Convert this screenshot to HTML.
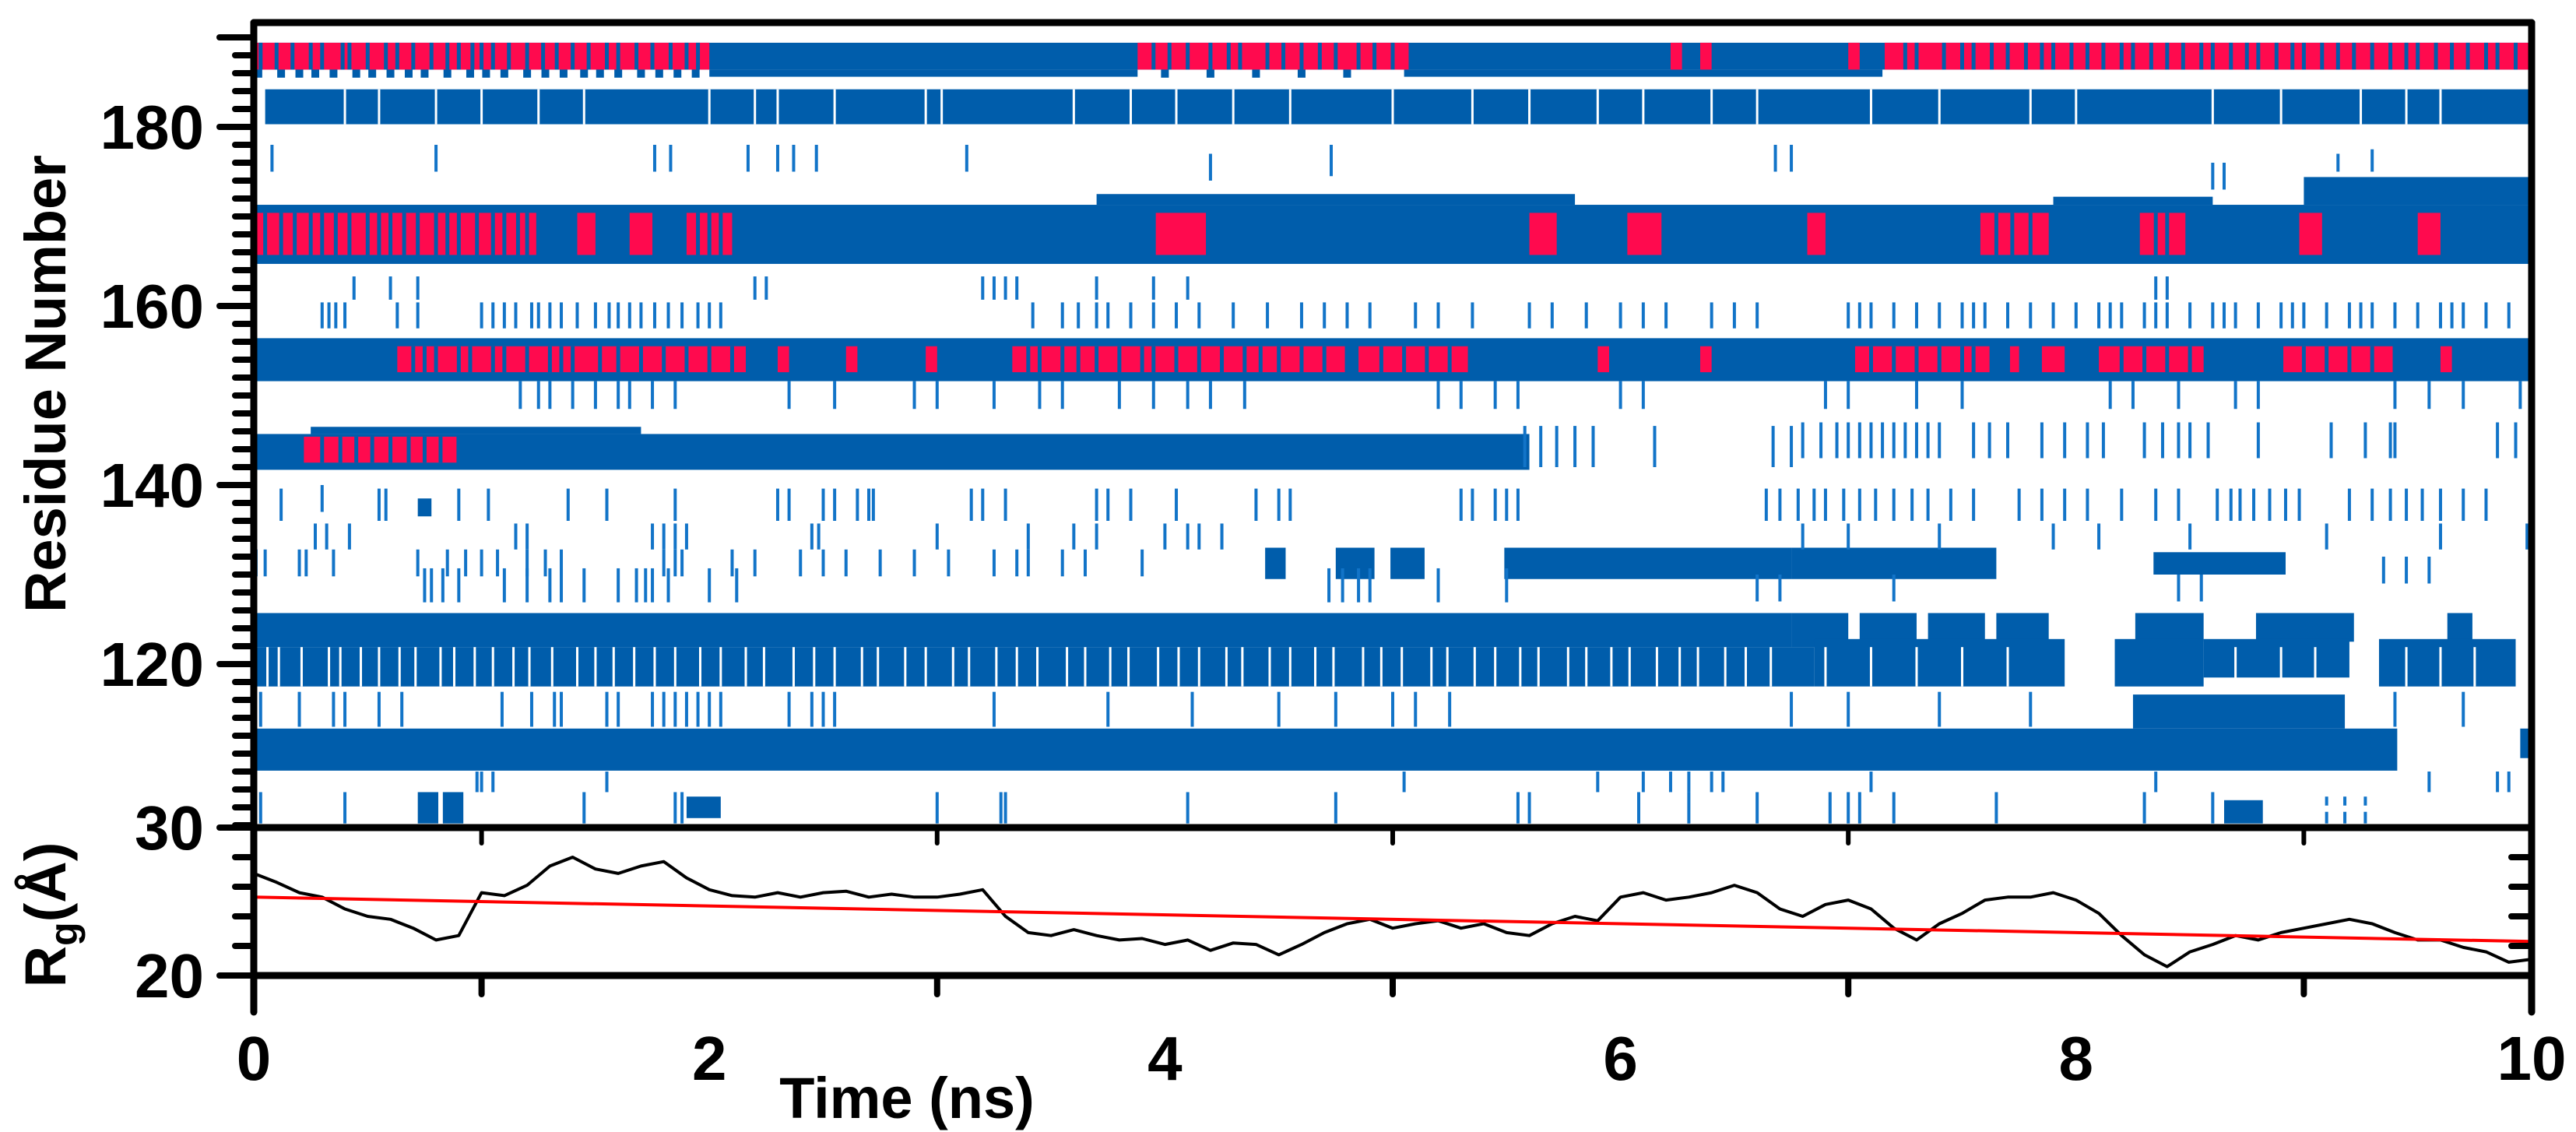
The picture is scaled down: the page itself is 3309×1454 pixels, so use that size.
<!DOCTYPE html>
<html><head><meta charset="utf-8"><title>Residue contacts and radius of gyration vs time</title>
<style>
html,body{margin:0;padding:0;background:#fff;}
svg{display:block;}
text{font-family:"Liberation Sans",Arial,sans-serif;font-weight:bold;fill:#000;}
</style></head>
<body>
<svg id="fig" xmlns="http://www.w3.org/2000/svg" width="3309" height="1454" viewBox="0 0 3309 1454">
<rect x="0" y="0" width="3309" height="1454" fill="#fff"/>
<g id="heat"></g>
<g id="rg"></g>
<g id="axes"></g>
<text x="0" y="0" font-size="74" text-anchor="middle" transform="translate(84,493) rotate(-90)">Residue Number</text>
<text x="0" y="0" font-size="74" text-anchor="middle" transform="translate(84,1175) rotate(-90)">R<tspan font-size="50" dy="15">g</tspan><tspan dy="-15">(Å)</tspan></text>
<text x="1165" y="1436" font-size="74" text-anchor="middle">Time (ns)</text>
</svg>
<script>
// ---------- data ----------
const xTicks = [0,2,4,6,8,10];
const xTickLabels = ["0","2","4","6","8","10"];
const resTicks = [180,160,140,120];
const resTickLabels = ["180","160","140","120"];
const rgTicks = [20,30];
const rgTickLabels = ["20","30"];
// blue occupancy blocks: [t0, t1, residueTop, residueBottom]
const blueBlocks = [
 [0,10,189.4,186.4],[2.0,3.88,186.4,185.6],[5.05,7.15,186.4,185.6],
 [0.05,10,184.2,180.3],
 [0,10,171.3,164.7],[3.7,5.8,172.5,171.3],[9.0,10,174.4,171.3],[7.9,8.6,172.2,171.3],
 [0,10,156.4,151.6],
 [0,5.6,145.7,141.7],[0.25,1.7,146.5,145.7],[0.72,0.78,138.5,136.5],
 [4.44,4.53,133,129.5],[4.75,4.92,133,129.5],[4.99,5.14,133,129.5],[5.49,6.75,133,129.5],[6.75,7.65,133,129.5],[8.34,8.92,132.5,130],
 [0,6.75,125.7,121.9],[6.75,7.0,125.7,121.9],[7.05,7.3,125.7,121.9],[7.35,7.6,125.7,121.9],[7.65,7.88,125.7,121.9],[8.26,8.56,125.7,122.5],[8.79,9.22,125.7,122.5],[9.63,9.74,125.7,122.5],
 [0,6.85,121.9,117.5],[6.85,7.95,122.8,117.5],[8.17,8.56,122.8,117.5],[8.56,9.2,122.8,118.5],[9.33,9.93,122.8,117.5],
 [0,9.41,112.8,108.1],[9.95,10,112.8,109.5],[8.25,9.18,116.6,112.8],
 [0.72,0.81,105.7,102.2],[0.83,0.92,105.7,102.2],[1.9,2.05,105.2,102.8],[8.65,8.82,104.8,102.2]
];
// red overlays: [t0, t1, residueTop, residueBottom]
const redBlocks = [
 [0,2.0,189.4,186.4],[3.88,5.07,189.4,186.4],[6.22,6.27,189.4,186.4],[6.35,6.4,189.4,186.4],[7.0,7.05,189.4,186.4],[7.16,10,189.4,186.4],
 [0,1.24,170.4,165.7],[1.42,1.5,170.4,165.7],[1.65,1.75,170.4,165.7],[1.9,2.1,170.4,165.7],[3.96,4.18,170.4,165.7],[5.6,5.72,170.4,165.7],[6.03,6.18,170.4,165.7],[6.82,6.9,170.4,165.7],[7.58,7.88,170.4,165.7],[8.28,8.48,170.4,165.7],[8.98,9.08,170.4,165.7],[9.5,9.6,170.4,165.7],
 [0.63,2.16,155.5,152.6],[2.3,2.35,155.5,152.6],[2.6,2.65,155.5,152.6],[2.95,3.0,155.5,152.6],[3.33,4.79,155.5,152.6],[4.85,5.33,155.5,152.6],[5.9,5.95,155.5,152.6],[6.35,6.4,155.5,152.6],[7.03,7.62,155.5,152.6],[7.71,7.75,155.5,152.6],[7.85,7.95,155.5,152.6],[8.1,8.56,155.5,152.6],[8.91,9.39,155.5,152.6],[9.6,9.65,155.5,152.6],
 [0.22,0.89,145.4,142.5]
];
// blue stripes inside red zones (times)
const stripesA = [0.03,0.1,0.17,0.25,0.3,0.39,0.42,0.5,0.58,0.63,0.7,0.78,0.85,0.9,0.96,1.0,1.05,1.12,1.2,1.27,1.33,1.4,1.47,1.55,1.6,1.68,1.75,1.83,1.9,1.95,3.95,4.02,4.1,4.2,4.28,4.33,4.45,4.52,4.6,4.68,4.75,4.85,4.92,5.0,7.25,7.3,7.42,7.5,7.55,7.63,7.7,7.78,7.85,7.9,7.98,8.05,8.12,8.2,8.25,8.33,8.4,8.47,8.55,8.6,8.68,8.75,8.8,8.88,8.95,9.0,9.08,9.15,9.22,9.3,9.38,9.45,9.5,9.58,9.65,9.72,9.8,9.85,9.93];
const stripesC = [0.05,0.12,0.18,0.25,0.3,0.36,0.42,0.5,0.55,0.6,0.66,0.72,0.8,0.85,0.9,0.98,1.05,1.1,1.16,1.2,1.95,2.0,2.05,7.65,7.72,7.8,8.35,8.4];
const stripesD = [0.7,0.75,0.8,0.9,0.95,1.05,1.1,1.2,1.3,1.35,1.4,1.52,1.6,1.7,1.8,1.9,2.0,2.1,3.4,3.45,3.55,3.62,3.7,3.8,3.9,3.95,4.05,4.15,4.25,4.35,4.42,4.5,4.6,4.7,4.95,5.05,5.15,5.25,7.1,7.2,7.3,7.4,7.5,7.55,8.2,8.3,8.4,8.5,9.0,9.1,9.2,9.3];
const stripesE = [0.3,0.38,0.45,0.52,0.6,0.68,0.75,0.82];
// blue fragments under red row A in first 2 ns (times)
const rowA2 = [0.02,0.12,0.2,0.27,0.35,0.45,0.52,0.6,0.68,0.75,0.85,0.95,1.02,1.1,1.2,1.28,1.36,1.45,1.52,1.6,1.7,1.78,1.86,1.94,4.0,4.2,4.4,4.6,4.8];
// white gaps inside blue bands: times for band B, band G2
const gapsB = [0.4,0.55,0.8,1.0,1.25,1.45,2.0,2.2,2.3,2.55,2.95,3.02,3.6,3.85,4.05,4.3,4.55,5.0,5.35,5.6,5.9,6.1,6.4,6.6,7.1,7.4,7.8,8.0,8.6,8.9,9.25,9.45,9.6];
const gapsG = [0.06,0.11,0.21,0.33,0.38,0.47,0.55,0.64,0.71,0.82,0.88,0.97,1.05,1.14,1.21,1.31,1.42,1.5,1.58,1.67,1.76,1.85,1.96,2.05,2.16,2.24,2.37,2.46,2.55,2.67,2.74,2.86,2.95,3.07,3.14,3.26,3.35,3.44,3.57,3.65,3.76,3.84,3.97,4.06,4.15,4.27,4.34,4.46,4.55,4.66,4.74,4.87,4.95,5.04,5.17,5.24,5.36,5.45,5.56,5.64,5.77,5.85,5.96,6.04,6.16,6.26,6.34,6.46,6.55,6.66,6.9,7.1,7.3,7.5,7.7,8.7,8.9,9.05,9.45,9.6,9.75];
// sparse contact lines: [t, residueTop, residueBottom]
const sparseLines = [
 [0.08,178,175],[0.8,178,175],[1.76,178,175],[1.83,178,175],[2.17,178,175],[2.3,178,175],[2.37,178,175],[2.47,178,175],[3.13,178,175],[4.2,177,174],[4.73,178,174.5],[6.68,178,175],[6.75,178,175],[8.6,176,173],[8.65,176,173],[9.15,177,175],[9.3,177.5,175],
 [0.44,163.3,160.7],[0.6,163.3,160.7],[0.72,163.3,160.7],[2.2,163.3,160.7],[2.25,163.3,160.7],[3.2,163.3,160.7],[3.25,163.3,160.7],[3.3,163.3,160.7],[3.35,163.3,160.7],[3.7,163.3,160.7],[3.95,163.3,160.7],[4.1,163.3,160.7],[8.35,163.3,160.7],[8.4,163.3,160.7],
 [0.3,160.4,157.5],[0.33,160.4,157.5],[0.36,160.4,157.5],[0.4,160.4,157.5],[0.63,160.4,157.5],[0.72,160.4,157.5],[1.0,160.4,157.5],[1.05,160.4,157.5],[1.1,160.4,157.5],[1.15,160.4,157.5],[1.22,160.4,157.5],[1.25,160.4,157.5],[1.3,160.4,157.5],[1.35,160.4,157.5],[1.42,160.4,157.5],[1.5,160.4,157.5],[1.56,160.4,157.5],[1.6,160.4,157.5],[1.65,160.4,157.5],[1.7,160.4,157.5],[1.76,160.4,157.5],[1.82,160.4,157.5],[1.88,160.4,157.5],[1.95,160.4,157.5],[2.0,160.4,157.5],[2.05,160.4,157.5],[3.42,160.4,157.5],[3.55,160.4,157.5],[3.62,160.4,157.5],[3.7,160.4,157.5],[3.75,160.4,157.5],[3.85,160.4,157.5],[3.95,160.4,157.5],[4.05,160.4,157.5],[4.15,160.4,157.5],[4.3,160.4,157.5],[4.45,160.4,157.5],[4.6,160.4,157.5],[4.7,160.4,157.5],[4.8,160.4,157.5],[4.9,160.4,157.5],[5.1,160.4,157.5],[5.2,160.4,157.5],[5.35,160.4,157.5],[5.6,160.4,157.5],[5.7,160.4,157.5],[5.85,160.4,157.5],[6.0,160.4,157.5],[6.1,160.4,157.5],[6.2,160.4,157.5],[6.4,160.4,157.5],[6.5,160.4,157.5],[6.6,160.4,157.5],[7.0,160.4,157.5],[7.05,160.4,157.5],[7.1,160.4,157.5],[7.2,160.4,157.5],[7.3,160.4,157.5],[7.4,160.4,157.5],[7.5,160.4,157.5],[7.55,160.4,157.5],[7.6,160.4,157.5],[7.7,160.4,157.5],[7.8,160.4,157.5],[7.9,160.4,157.5],[8.0,160.4,157.5],[8.1,160.4,157.5],[8.15,160.4,157.5],[8.2,160.4,157.5],[8.3,160.4,157.5],[8.35,160.4,157.5],[8.4,160.4,157.5],[8.5,160.4,157.5],[8.6,160.4,157.5],[8.65,160.4,157.5],[8.7,160.4,157.5],[8.8,160.4,157.5],[8.9,160.4,157.5],[8.95,160.4,157.5],[9.0,160.4,157.5],[9.1,160.4,157.5],[9.2,160.4,157.5],[9.25,160.4,157.5],[9.3,160.4,157.5],[9.4,160.4,157.5],[9.5,160.4,157.5],[9.6,160.4,157.5],[9.65,160.4,157.5],[9.7,160.4,157.5],[9.8,160.4,157.5],[9.9,160.4,157.5],
 [1.17,151.6,148.5],[1.25,151.6,148.5],[1.3,151.6,148.5],[1.4,151.6,148.5],[1.5,151.6,148.5],[1.6,151.6,148.5],[1.65,151.6,148.5],[1.75,151.6,148.5],[1.85,151.6,148.5],[2.35,151.6,148.5],[2.55,151.6,148.5],[2.9,151.6,148.5],[3.0,151.6,148.5],[3.25,151.6,148.5],[3.45,151.6,148.5],[3.55,151.6,148.5],[3.8,151.6,148.5],[3.95,151.6,148.5],[4.1,151.6,148.5],[4.2,151.6,148.5],[4.35,151.6,148.5],[5.2,151.6,148.5],[5.3,151.6,148.5],[5.45,151.6,148.5],[5.55,151.6,148.5],[6.0,151.6,148.5],[6.1,151.6,148.5],[6.9,151.6,148.5],[7.0,151.6,148.5],[7.3,151.6,148.5],[7.5,151.6,148.5],[8.15,151.6,148.5],[8.25,151.6,148.5],[8.45,151.6,148.5],[8.7,151.6,148.5],[8.8,151.6,148.5],[9.4,151.6,148.5],[9.55,151.6,148.5],[9.7,151.6,148.5],[9.95,151.6,148.5],
 [5.58,146.6,142],[5.65,146.6,142],[5.72,146.6,142],[5.8,146.6,142],[5.88,146.6,142],[6.15,146.6,142],[6.67,146.6,142],[6.75,146.6,142],[6.8,147,143],[6.88,147,143],[6.95,147,143],[7.0,147,143],[7.05,147,143],[7.1,147,143],[7.15,147,143],[7.2,147,143],[7.25,147,143],[7.3,147,143],[7.35,147,143],[7.4,147,143],[7.55,147,143],[7.62,147,143],[7.7,147,143],[7.85,147,143],[7.95,147,143],[8.05,147,143],[8.12,147,143],[8.3,147,143],[8.38,147,143],[8.45,147,143],[8.5,147,143],[8.58,147,143],[8.8,147,143],[9.12,147,143],[9.27,147,143],[9.38,147,143],[9.4,147,143],[9.85,147,143],[9.93,147,143],
 [0.12,139.6,136],[0.3,140,137],[0.55,139.6,136],[0.58,139.6,136],[0.9,139.6,136],[1.03,139.6,136],[1.38,139.6,136],[1.55,139.6,136],[1.85,139.6,136],[2.3,139.6,136],[2.35,139.6,136],[2.5,139.6,136],[2.55,139.6,136],[2.65,139.6,136],[2.7,139.6,136],[2.72,139.6,136],[3.15,139.6,136],[3.2,139.6,136],[3.3,139.6,136],[3.7,139.6,136],[3.75,139.6,136],[3.85,139.6,136],[4.05,139.6,136],[4.4,139.6,136],[4.5,139.6,136],[4.55,139.6,136],[5.3,139.6,136],[5.35,139.6,136],[5.45,139.6,136],[5.5,139.6,136],[5.55,139.6,136],[6.64,139.6,136],[6.7,139.6,136],[6.78,139.6,136],[6.85,139.6,136],[6.9,139.6,136],[6.98,139.6,136],[7.05,139.6,136],[7.12,139.6,136],[7.2,139.6,136],[7.28,139.6,136],[7.35,139.6,136],[7.45,139.6,136],[7.55,139.6,136],[7.75,139.6,136],[7.85,139.6,136],[7.95,139.6,136],[8.05,139.6,136],[8.2,139.6,136],[8.35,139.6,136],[8.45,139.6,136],[8.62,139.6,136],[8.68,139.6,136],[8.72,139.6,136],[8.78,139.6,136],[8.85,139.6,136],[8.92,139.6,136],[8.98,139.6,136],[9.2,139.6,136],[9.3,139.6,136],[9.38,139.6,136],[9.45,139.6,136],[9.52,139.6,136],[9.6,139.6,136],[9.7,139.6,136],[9.8,139.6,136],
 [0.27,135.7,132.8],[0.32,135.7,132.8],[0.42,135.7,132.8],[1.15,135.7,132.8],[1.2,135.7,132.8],[1.75,135.7,132.8],[1.8,135.7,132.8],[1.85,135.7,132.8],[1.9,135.7,132.8],[2.45,135.7,132.8],[2.48,135.7,132.8],[3.0,135.7,132.8],[3.4,135.7,132.8],[3.6,135.7,132.8],[3.7,135.7,132.8],[4.0,135.7,132.8],[4.1,135.7,132.8],[4.15,135.7,132.8],[4.25,135.7,132.8],[6.8,135.7,132.8],[7.0,135.7,132.8],[7.4,135.7,132.8],[7.9,135.7,132.8],[8.1,135.7,132.8],[8.5,135.7,132.8],[9.1,135.7,132.8],[9.6,135.7,132.8],[9.98,135.7,132.8],
 [0.01,132.8,129.8],[0.05,132.8,129.8],[0.2,132.8,129.8],[0.23,132.8,129.8],[0.35,132.8,129.8],[0.72,132.8,129.8],[0.85,132.8,129.8],[0.93,132.8,129.8],[1.0,132.8,129.8],[1.07,132.8,129.8],[1.2,132.8,129.8],[1.28,132.8,129.8],[1.35,132.8,129.8],[1.8,132.8,129.8],[1.85,132.8,129.8],[1.88,132.8,129.8],[2.1,132.8,129.8],[2.2,132.8,129.8],[2.4,132.8,129.8],[2.5,132.8,129.8],[2.6,132.8,129.8],[2.75,132.8,129.8],[2.9,132.8,129.8],[3.05,132.8,129.8],[3.25,132.8,129.8],[3.35,132.8,129.8],[3.4,132.8,129.8],[3.55,132.8,129.8],[3.65,132.8,129.8],[3.9,132.8,129.8],[9.35,132,129],[9.45,132,129],[9.55,132,129],
 [0.75,130.7,126.9],[0.78,130.7,126.9],[0.83,130.7,126.9],[0.9,130.7,126.9],[1.1,130.7,126.9],[1.2,130.7,126.9],[1.3,130.7,126.9],[1.35,130.7,126.9],[1.45,130.7,126.9],[1.6,130.7,126.9],[1.68,130.7,126.9],[1.72,130.7,126.9],[1.75,130.7,126.9],[1.82,130.7,126.9],[2.0,130.7,126.9],[2.12,130.7,126.9],[4.72,130.7,126.9],[4.78,130.7,126.9],[4.85,130.7,126.9],[4.9,130.7,126.9],[5.2,130.7,126.9],[5.5,130.7,126.9],[6.6,130,127],[6.7,130,127],[7.2,130,127],[8.45,130,127],[8.55,130,127],
 [0.03,116.9,113],[0.2,116.9,113],[0.35,116.9,113],[0.4,116.9,113],[0.55,116.9,113],[0.65,116.9,113],[1.09,116.9,113],[1.22,116.9,113],[1.32,116.9,113],[1.35,116.9,113],[1.55,116.9,113],[1.6,116.9,113],[1.75,116.9,113],[1.8,116.9,113],[1.85,116.9,113],[1.9,116.9,113],[1.95,116.9,113],[2.0,116.9,113],[2.05,116.9,113],[2.35,116.9,113],[2.45,116.9,113],[2.5,116.9,113],[2.55,116.9,113],[3.25,116.9,113],[3.75,116.9,113],[4.12,116.9,113],[4.5,116.9,113],[4.75,116.9,113],[5.0,116.9,113],[5.1,116.9,113],[5.25,116.9,113],[6.75,116.9,113],[7.0,116.9,113],[7.4,116.9,113],[7.8,116.9,113],[9.4,116.9,113],[9.7,116.9,113],
 [0.98,108,105.7],[1.0,108,105.7],[1.05,108,105.7],[1.55,108,105.7],[5.05,108,105.7],[5.9,108,105.7],[6.1,108,105.7],[6.22,108,105.7],[6.3,108,105.7],[6.4,108,105.7],[6.45,108,105.7],[7.1,108,105.7],[8.35,108,105.7],[9.55,108,105.7],[9.85,108,105.7],[9.9,108,105.7],
 [0.03,105.7,102.2],[0.4,105.7,102.2],[1.45,105.7,102.2],[1.85,105.7,102.2],[1.88,105.7,102.2],[3.0,105.7,102.2],[3.28,105.7,102.2],[3.3,105.7,102.2],[4.1,105.7,102.2],[4.75,105.7,102.2],[5.55,105.7,102.2],[5.6,105.7,102.2],[6.08,105.7,102.2],[6.3,105.7,102.2],[6.6,105.7,102.2],[6.92,105.7,102.2],[7.0,105.7,102.2],[7.05,105.7,102.2],[7.2,105.7,102.2],[7.65,105.7,102.2],[8.3,105.7,102.2],[8.6,105.7,102.2],[9.1,105.2,104.2],[9.1,103.5,102.2],[9.18,105.2,104.2],[9.18,103.5,102.2],[9.27,105.2,104.2],[9.27,103.5,102.2]
];
// radius of gyration (Å) sampled every 0.1 ns
const rgTimes = [0,0.1,0.2,0.3,0.4,0.5,0.6,0.7,0.8,0.9,1,1.1,1.2,1.3,1.4,1.5,1.6,1.7,1.8,1.9,2,2.1,2.2,2.3,2.4,2.5,2.6,2.7,2.8,2.9,3,3.1,3.2,3.3,3.4,3.5,3.6,3.7,3.8,3.9,4,4.1,4.2,4.3,4.4,4.5,4.6,4.7,4.8,4.9,5,5.1,5.2,5.3,5.4,5.5,5.6,5.7,5.8,5.9,6,6.1,6.2,6.3,6.4,6.5,6.6,6.7,6.8,6.9,7,7.1,7.2,7.3,7.4,7.5,7.6,7.7,7.8,7.9,8,8.1,8.2,8.3,8.4,8.5,8.6,8.7,8.8,8.9,9,9.1,9.2,9.3,9.4,9.5,9.6,9.7,9.8,9.9,10];
const rgValues = [26.9,26.3,25.6,25.3,24.5,24.0,23.8,23.2,22.4,22.7,25.6,25.4,26.1,27.4,28.0,27.2,26.9,27.4,27.7,26.6,25.8,25.4,25.3,25.6,25.3,25.6,25.7,25.3,25.5,25.3,25.3,25.5,25.8,24.0,22.9,22.7,23.1,22.7,22.4,22.5,22.1,22.4,21.7,22.2,22.1,21.4,22.1,22.9,23.5,23.8,23.2,23.5,23.7,23.2,23.5,22.9,22.7,23.5,24.0,23.7,25.3,25.6,25.1,25.3,25.6,26.1,25.6,24.5,24.0,24.8,25.1,24.5,23.2,22.4,23.5,24.2,25.1,25.3,25.3,25.6,25.1,24.2,22.7,21.4,20.6,21.6,22.1,22.7,22.4,22.9,23.2,23.5,23.8,23.5,22.9,22.4,22.4,21.9,21.6,20.9,21.1];
const fitTimes = [0,10];
const fitValues = [25.3,22.3];

// ---------- scales ----------
const L=326,R=3252,TOP=29,MID=1063,BOT=1253;
const X=t=>L+t*(R-L)/10;
const YR=r=>163+(180-r)*11.5;
const YG=v=>BOT-(v-20)*(BOT-MID)/10;
const NS="http://www.w3.org/2000/svg";
function mk(tag,attrs,parent){const e=document.createElementNS(NS,tag);for(const k in attrs)e.setAttribute(k,attrs[k]);parent.appendChild(e);return e;}
const heat=document.getElementById('heat');
const BLUE="#005dab",RED="#ff0a4e",THIN="#1274c8";

blueBlocks.forEach(b=>{
  const e=mk('rect',{x:X(b[0]),y:YR(b[2]),width:Math.max(2,X(b[1])-X(b[0])),height:YR(b[3])-YR(b[2]),fill:BLUE},heat);
  
  
});
redBlocks.forEach(b=>{
  const e=mk('rect',{x:X(b[0]),y:YR(b[2]),width:Math.max(2,X(b[1])-X(b[0])),height:YR(b[3])-YR(b[2]),fill:RED},heat);
  
  
});
function stripes(arr,r0,r1,col,w,name){arr.forEach(t=>{
  const e=mk('rect',{x:X(t)-w/2,y:YR(r0),width:w,height:YR(r1)-YR(r0),fill:col},heat);
  
  
});}
stripes(stripesA,189.4,186.4,BLUE,5,'stripe-a');
stripes(rowA2,186.4,185.5,BLUE,10,'row-a2-fragment');
stripes(stripesC,170.4,165.7,BLUE,5,'stripe-c');
stripes(stripesD,155.5,152.6,BLUE,5,'stripe-d');
stripes(stripesE,145.4,142.5,BLUE,5,'stripe-e');
stripes(gapsB,184.2,180.3,"#ffffff",3,'gap-b');
stripes(gapsG,121.9,117.5,"#ffffff",3,'gap-g');
sparseLines.forEach(s=>{
  const e=mk('rect',{x:X(s[0])-2,y:YR(s[1]),width:4,height:YR(s[2])-YR(s[1]),fill:THIN},heat);
  
  
});

// Rg panel
const rg=document.getElementById('rg');
const pts=rgTimes.map((t,i)=>X(t).toFixed(1)+","+YG(rgValues[i]).toFixed(1)).join(" ");
const rgLine=mk('polyline',{points:pts,fill:"none",stroke:"#000","stroke-width":4,"stroke-linejoin":"round"},rg);


const fit=mk('line',{x1:X(fitTimes[0]),y1:YG(fitValues[0]),x2:X(fitTimes[1]),y2:YG(fitValues[1]),stroke:"#ff0000","stroke-width":4},rg);



// Axes
const ax=document.getElementById('axes');
function ln(x1,y1,x2,y2,w,name){const e=mk('line',{x1,y1,x2,y2,stroke:"#000","stroke-width":w,"stroke-linecap":"round"},ax);
  
  return e;}
ln(L,TOP,R,TOP,9,'top-axis');
ln(L,MID,R,MID,9,'panel-divider');
ln(L,BOT,R,BOT,9,'x-axis');
ln(L,TOP,L,1300,9,'left-axis');
ln(R,TOP,R,1300,9,'right-axis');
ln(282,48,L,48,8,'residue-major-tick');
for(let r=188;r>=102;r-=2){ if(resTicks.indexOf(r)<0) ln(302,YR(r),L,YR(r),8,'residue-minor-tick'); }
resTicks.forEach((r,i)=>{ln(282,YR(r),L,YR(r),8,'residue-major-tick');
  const t=mk('text',{x:262,y:YR(r)+28,"font-size":80,"text-anchor":"end"},ax);t.textContent=resTickLabels[i];
  
  });
[22,24,26,28].forEach(v=>{ln(302,YG(v),L,YG(v),8,'rg-minor-tick');ln(R-26,YG(v),R,YG(v),8,'rg-right-tick');});
rgTicks.forEach((v,i)=>{ln(282,YG(v),L,YG(v),8,'rg-major-tick');
  const t=mk('text',{x:262,y:YG(v)+28,"font-size":80,"text-anchor":"end"},ax);t.textContent=rgTickLabels[i];
  
  });
[1,3,5,7,9].forEach(t=>{ln(X(t),BOT,X(t),BOT+24,8,'x-minor-tick');ln(X(t),MID,X(t),MID+20,6,'x-inner-tick');});
xTicks.forEach((t,i)=>{const e=mk('text',{x:X(t),y:1387,"font-size":80,"text-anchor":"middle"},ax);e.textContent=xTickLabels[i];
  
  });
</script>
</body></html>
